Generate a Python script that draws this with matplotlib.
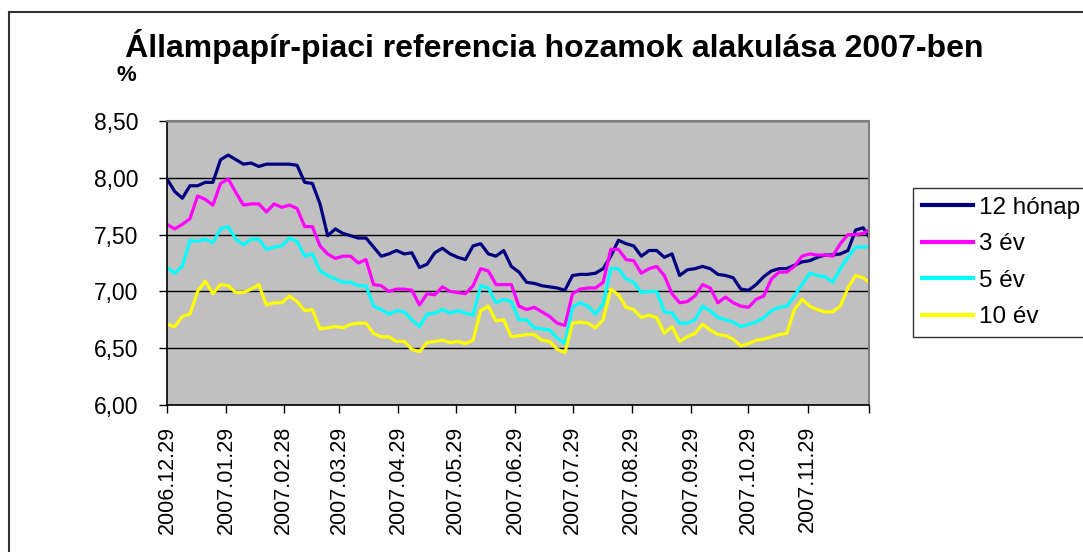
import pandas as pd
import matplotlib
matplotlib.use("Agg")
import matplotlib.pyplot as plt
from matplotlib.lines import Line2D

plt.rcParams['font.family'] = ['Liberation Sans', 'DejaVu Sans']

# mintavétel: 4 naponta 2006.12.29-től, plusz az év utolsó napja
dates = list(pd.date_range('2006-12-29', '2007-12-28', freq='4D')) + [pd.Timestamp('2007-12-31')]

# 12 hónap
y12m = [7.99, 7.88, 7.82, 7.93, 7.93, 7.96, 7.96, 8.16, 8.20, 8.16,
        8.12, 8.13, 8.10, 8.12, 8.12, 8.12, 8.12, 8.11, 7.96, 7.95,
        7.77, 7.49, 7.55, 7.51, 7.49, 7.47, 7.47, 7.39, 7.31, 7.33,
        7.36, 7.33, 7.34, 7.21, 7.24, 7.34, 7.38, 7.33, 7.30, 7.28,
        7.40, 7.42, 7.33, 7.31, 7.36, 7.22, 7.17, 7.08, 7.07, 7.05,
        7.04, 7.03, 7.01, 7.14, 7.15, 7.15, 7.16, 7.20, 7.31, 7.45,
        7.42, 7.40, 7.31, 7.36, 7.36, 7.30, 7.33, 7.14, 7.19, 7.20,
        7.22, 7.20, 7.15, 7.14, 7.12, 7.02, 7.01, 7.06, 7.13, 7.18,
        7.20, 7.20, 7.23, 7.26, 7.27, 7.30, 7.32, 7.32, 7.33, 7.36,
        7.54, 7.56, 7.48]

# 3 év
y3 = [7.59, 7.55, 7.59, 7.64, 7.84, 7.81, 7.76, 7.95, 7.99, 7.87,
      7.76, 7.77, 7.77, 7.70, 7.77, 7.74, 7.76, 7.73, 7.57, 7.57,
      7.40, 7.33, 7.29, 7.31, 7.31, 7.25, 7.28, 7.06, 7.05, 7.00,
      7.02, 7.02, 7.01, 6.88, 6.98, 6.97, 7.04, 7.00, 6.99, 6.98,
      7.05, 7.20, 7.18, 7.06, 7.06, 7.06, 6.87, 6.84, 6.86, 6.82,
      6.78, 6.72, 6.70, 6.98, 7.02, 7.03, 7.03, 7.08, 7.37, 7.37,
      7.28, 7.27, 7.16, 7.20, 7.22, 7.14, 6.98, 6.90, 6.91, 6.96,
      7.06, 7.03, 6.90, 6.95, 6.90, 6.87, 6.86, 6.93, 6.96, 7.11,
      7.17, 7.17, 7.22, 7.31, 7.33, 7.32, 7.32, 7.31, 7.42, 7.50,
      7.50, 7.51, 7.54]

# 5 év
y5 = [7.21, 7.16, 7.22, 7.45, 7.44, 7.46, 7.43, 7.55, 7.57, 7.46,
      7.41, 7.46, 7.46, 7.37, 7.39, 7.40, 7.47, 7.44, 7.31, 7.33,
      7.18, 7.14, 7.11, 7.08, 7.08, 7.05, 7.05, 6.87, 6.84, 6.80,
      6.83, 6.82, 6.75, 6.69, 6.80, 6.81, 6.84, 6.81, 6.83, 6.81,
      6.79, 7.05, 7.03, 6.90, 6.93, 6.91, 6.75, 6.75, 6.68, 6.67,
      6.66, 6.59, 6.54, 6.86, 6.90, 6.87, 6.80, 6.89, 7.20, 7.20,
      7.11, 7.08, 6.99, 7.00, 7.00, 6.82, 6.81, 6.72, 6.72, 6.75,
      6.87, 6.83, 6.77, 6.75, 6.73, 6.69, 6.71, 6.73, 6.77, 6.83,
      6.86, 6.87, 6.96, 7.06, 7.16, 7.14, 7.13, 7.08, 7.20, 7.30,
      7.39, 7.39, 7.39]

# 10 év
y10 = [6.71, 6.69, 6.78, 6.80, 7.00, 7.09, 6.98, 7.06, 7.05, 6.99,
       6.99, 7.02, 7.06, 6.88, 6.90, 6.90, 6.96, 6.91, 6.83, 6.84,
       6.67, 6.68, 6.69, 6.68, 6.71, 6.72, 6.72, 6.63, 6.60, 6.60,
       6.56, 6.56, 6.49, 6.47, 6.55, 6.56, 6.57, 6.55, 6.56, 6.54,
       6.57, 6.83, 6.87, 6.74, 6.75, 6.60, 6.61, 6.62, 6.62, 6.57,
       6.56, 6.49, 6.46, 6.72, 6.73, 6.72, 6.68, 6.75, 7.02, 6.97,
       6.86, 6.84, 6.77, 6.79, 6.77, 6.63, 6.69, 6.56, 6.60, 6.63,
       6.71, 6.66, 6.62, 6.61, 6.58, 6.52, 6.54, 6.57, 6.58, 6.60,
       6.62, 6.63, 6.84, 6.93, 6.87, 6.84, 6.82, 6.82, 6.87, 7.03,
       7.14, 7.12, 7.08]

series = [('12 hónap', y12m, '#000080'),
          ('3 év', y3, '#FF00FF'),
          ('5 év', y5, '#00FFFF'),
          ('10 év', y10, '#FFFF00')]

tick_dates = ['2006-12-29', '2007-01-29', '2007-02-28', '2007-03-29', '2007-04-29',
              '2007-05-29', '2007-06-29', '2007-07-29', '2007-08-29', '2007-09-29',
              '2007-10-29', '2007-11-29', '2007-12-31']
tick_labels = ['2006.12.29', '2007.01.29', '2007.02.28', '2007.03.29', '2007.04.29',
               '2007.05.29', '2007.06.29', '2007.07.29', '2007.08.29', '2007.09.29',
               '2007.10.29', '2007.11.29', '']
yticks = [6.0, 6.5, 7.0, 7.5, 8.0, 8.5]

fig = plt.figure(figsize=(10.83, 5.52), dpi=100)
ax = fig.add_axes([167/1083, 1 - 405/552, (869 - 167)/1083, (405 - 121)/552])
ax.set_facecolor('#C0C0C0')

for name, vals, col in series:
    ax.plot(dates, vals, color=col, lw=2.3, label=name)

ax.set_xlim(pd.Timestamp('2006-12-29'), pd.Timestamp('2007-12-31'))
ax.set_ylim(6.0, 8.5)
ax.set_yticks(yticks)
ax.set_yticklabels([f'{v:.2f}'.replace('.', ',') for v in yticks], fontsize=16.5)
ax.set_xticks([pd.Timestamp(d) for d in tick_dates])
ax.set_xticklabels(tick_labels, rotation=90, fontsize=15.5)
ax.tick_params(axis='both', direction='out', length=6, width=1, color='black')
ax.tick_params(axis='y', pad=14.5)
ax.tick_params(axis='x', pad=9)
ax.grid(axis='y', color='black', lw=1)
ax.set_axisbelow(True)

for s in ['top', 'right']:
    ax.spines[s].set_color('#808080')
    ax.spines[s].set_linewidth(1.5)
for s in ['left', 'bottom']:
    ax.spines[s].set_color('black')
    ax.spines[s].set_linewidth(1.2)

fig.text(554/1083, 1 - 47/552, 'Állampapír-piaci referencia hozamok alakulása 2007-ben',
         ha='center', va='center', fontsize=23, fontweight='bold')
fig.text(126/1083, 1 - 76/552, '%', ha='center', va='center', fontsize=16, fontweight='bold')

leg = fig.legend(loc='upper left', bbox_to_anchor=(913/1083, 1 - 188/552), fontsize=17.5,
                 frameon=True, fancybox=False, edgecolor='black', handlelength=2.1,
                 handletextpad=0.25, labelspacing=0.6, borderpad=0.35, borderaxespad=0)
leg.get_frame().set_linewidth(1)
for h in leg.legend_handles:
    h.set_linewidth(3)

# külső keret
fig.add_artist(Line2D([8.5/1083, 8.5/1083], [0, 1 - 12/552], color='#333333', lw=1.5))
fig.add_artist(Line2D([8.5/1083, 1], [1 - 12/552, 1 - 12/552], color='#333333', lw=1.5))

fig.savefig('out.png', dpi=100)
